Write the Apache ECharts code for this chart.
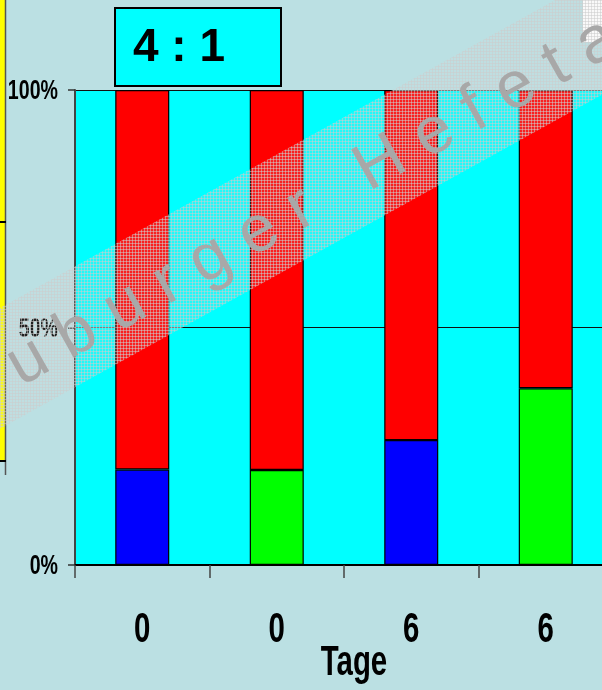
<!DOCTYPE html>
<html>
<head>
<meta charset="utf-8">
<script src="https://cdn.jsdelivr.net/npm/echarts@6/dist/echarts.min.js"></script>
<style>
  html, body { margin: 0; padding: 0; background: #bbe0e3; }
  #chart { width: 602px; height: 690px; }
</style>
</head>
<body>
<div id="chart"></div>
<script>
// Days of storage for each column
const days = ['0', '0', '6', '6'];
// Share (percent) of the lower segment, blue and green columns
const blueShare = [20.1, null, 26.3, null];
const greenShare = [null, 20.0, null, 37.2];
// Share (percent) of the upper red segment
const redShare = [79.9, 80.0, 73.7, 62.8];
// Value axis ticks
const yTicks = [0, 50, 100];
const titleText = '4 : 1';
const axisTitle = 'Tage';
const watermarkText = 'uburger Hefeta';

const chart = echarts.init(document.getElementById('chart'), null, { renderer: 'canvas' });

// Bold, tall and narrow lettering for the axis texts
const axisFont = '"Liberation Sans", Arial, sans-serif';
const squeeze = 0.7;

// Diagonal watermark letters, spread along a slanted baseline
function watermarkLetters() {
  const fontSize = 66;
  const font = 'normal ' + fontSize + 'px "Liberation Sans", Arial, sans-serif';
  const ctx = document.createElement('canvas').getContext('2d');
  ctx.font = font;
  const chars = watermarkText.split('');
  const widths = chars.map(c => ctx.measureText(c).width);
  const start = [28, 362];
  const end = [597, 43];
  const dx = end[0] - start[0], dy = end[1] - start[1];
  const dist = Math.sqrt(dx * dx + dy * dy);
  const ang = Math.atan2(-dy, dx);
  let centerSpan = 0;
  for (let i = 0; i < chars.length - 1; i++) centerSpan += (widths[i] + widths[i + 1]) / 2;
  const gap = (dist - centerSpan) / (chars.length - 1);
  const out = [];
  let along = 0;
  chars.forEach((c, i) => {
    if (i > 0) along += (widths[i - 1] + widths[i]) / 2 + gap;
    if (c === ' ') return;
    out.push({
      type: 'text',
      x: start[0] + Math.cos(ang) * along,
      y: start[1] - Math.sin(ang) * along,
      rotation: ang,
      z: 100,
      silent: true,
      style: {
        text: c,
        font: font,
        fill: '#a8a8a8',
        align: 'center',
        verticalAlign: 'middle'
      }
    });
  });
  return out;
}

// Fine grid hatch used for the translucent band
function hatchPattern() {
  const c = document.createElement('canvas');
  c.width = 3; c.height = 3;
  const g = c.getContext('2d');
  g.fillStyle = 'rgba(205,205,205,0.6)';
  g.fillRect(0, 0, 3, 1);
  g.fillRect(0, 0, 1, 3);
  g.fillStyle = 'rgba(215,215,215,0.15)';
  g.fillRect(1, 1, 2, 2);
  return { image: c, repeat: 'repeat' };
}

function lineY(x0, y0, x) { return y0 - 0.555 * (x - x0); }

const decorations = [
  // strip of a neighbouring panel on the left edge
  { type: 'rect', shape: { x: 0, y: 0, width: 6, height: 461 }, style: { fill: '#ffff00' }, z: 1 },
  { type: 'line', shape: { x1: 5.5, y1: 0, x2: 5.5, y2: 475 }, style: { stroke: '#555', lineWidth: 1.5 }, z: 2 },
  { type: 'line', shape: { x1: 0, y1: 222, x2: 6, y2: 222 }, style: { stroke: '#000', lineWidth: 2 }, z: 2 },
  { type: 'line', shape: { x1: 0, y1: 461, x2: 6, y2: 461 }, style: { stroke: '#000', lineWidth: 2 }, z: 2 },
  // white box corner at top right
  { type: 'rect', shape: { x: 583, y: 0, width: 19, height: 42 }, style: { fill: '#ffffff' }, z: 1 },
  // title box
  { type: 'rect', shape: { x: 115, y: 8, width: 166, height: 78 }, style: { fill: '#00ffff', stroke: '#000', lineWidth: 2 }, z: 5 },
  {
    type: 'text', x: 133, y: 48, z: 6,
    style: { text: titleText, font: 'bold 46px "Liberation Sans", Arial, sans-serif', fill: '#000', align: 'left', verticalAlign: 'middle' }
  },
  // translucent diagonal band behind the watermark
  {
    type: 'polygon', z: 90, silent: true,
    shape: {
      points: [
        [-20, lineY(393, 90, -20)],
        [640, lineY(393, 90, 640)],
        [640, lineY(115, 365, 640)],
        [-20, lineY(115, 365, -20)]
      ]
    },
    style: { fill: hatchPattern() }
  }
].concat(watermarkLetters());

const option = {
  backgroundColor: '#bbe0e3',
  animation: false,
  grid: {
    left: 75, top: 90, width: 538, height: 475,
    containLabel: false, outerBoundsMode: 'none',
    show: true, backgroundColor: '#00ffff', borderWidth: 0
  },
  xAxis: {
    type: 'category',
    data: days,
    boundaryGap: true,
    axisLine: { show: true, lineStyle: { color: '#000', width: 2 } },
    axisTick: { show: true, alignWithLabel: false, length: 13, lineStyle: { color: '#444', width: 1.5 } },
    axisLabel: { show: false },
    splitLine: { show: false }
  },
  yAxis: {
    type: 'value',
    min: yTicks[0], max: yTicks[yTicks.length - 1], interval: 50,
    axisLine: { show: true, lineStyle: { color: '#444', width: 2 } },
    axisTick: { show: true, length: 7, lineStyle: { color: '#333', width: 1.5 } },
    axisLabel: { show: false },
    splitLine: { show: true, lineStyle: { color: '#111', width: 1.2 } }
  },
  series: [
    {
      name: 'blau', type: 'bar', stack: 'anteil', data: blueShare, barWidth: 54,
      itemStyle: { color: '#0000ff', borderColor: '#000', borderWidth: 1.2 }
    },
    {
      name: 'grün', type: 'bar', stack: 'anteil', data: greenShare, barWidth: 54,
      itemStyle: { color: '#00ff00', borderColor: '#000', borderWidth: 1.2 }
    },
    {
      name: 'rot', type: 'bar', stack: 'anteil', data: redShare, barWidth: 54,
      itemStyle: { color: '#ff0000', borderColor: '#000', borderWidth: 1.2 }
    }
  ]
};

chart.setOption(option);

// Axis texts in condensed lettering, placed from the axes' own scales
const finder = { xAxisIndex: 0, yAxisIndex: 0 };
const axisTexts = [];
const cat0 = chart.convertToPixel(finder, [0, 0]);
const cat1 = chart.convertToPixel(finder, [1, 0]);
const axisY = cat0[1];
const axisX = cat0[0] - (cat1[0] - cat0[0]) / 2;
days.forEach((d, i) => {
  const p = chart.convertToPixel(finder, [i, 0]);
  axisTexts.push({
    type: 'text', x: p[0], y: axisY + 65, scaleX: squeeze, z: 10,
    style: { text: d, font: 'bold 42px ' + axisFont, fill: '#000', align: 'center', verticalAlign: 'middle' }
  });
});
yTicks.forEach(v => {
  const p = chart.convertToPixel(finder, [0, v]);
  axisTexts.push({
    type: 'text', x: axisX - 17, y: p[1] + 1.5, scaleX: squeeze, z: 10,
    style: { text: v + '%', font: 'bold 28px ' + axisFont, fill: '#000', align: 'right', verticalAlign: 'middle' }
  });
});
const lastCat = chart.convertToPixel(finder, [days.length - 1, 0])[0];
axisTexts.push({
  type: 'text', x: (cat0[0] + lastCat) / 2 + 10, y: axisY + 98, scaleX: squeeze, z: 10,
  style: { text: axisTitle, font: 'bold 42px ' + axisFont, fill: '#000', align: 'center', verticalAlign: 'middle' }
});

chart.setOption({ graphic: decorations.concat(axisTexts) });
</script>
</body>
</html>
